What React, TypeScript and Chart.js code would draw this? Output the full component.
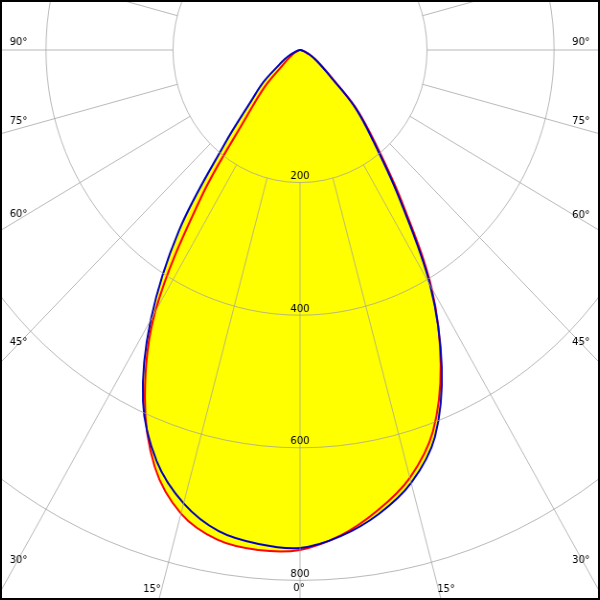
import React, { useEffect, useRef } from "react";
import { Chart, registerables } from "chart.js";

Chart.register(...registerables);

// Gamma angles (deg from nadir), 5° steps, 0..180
const gammaAngles = [
  0, 5, 10, 15, 20, 25, 30, 35, 40, 45, 50, 55, 60, 65, 70, 75, 80, 85, 90,
  95, 100, 105, 110, 115, 120, 125, 130, 135, 140, 145, 150, 155, 160, 165, 170, 175, 180,
];

// Blue curve (C90-C270 plane), left half (C270) and right half (C90), cd/klm
const blueLeft = [
  751, 748, 737, 708, 660, 585, 470, 332, 184, 109, 75, 43, 28, 17, 9, 4, 1, 0, 0,
  0, 0, 0, 0, 0, 0, 0, 0, 0, 0, 0, 0, 0, 0, 0, 0, 0, 0,
];
const blueRight = [
  750, 736, 711, 676, 621, 528, 410, 272, 180, 123, 64, 40, 27, 17, 10, 5, 2, 0, 0,
  0, 0, 0, 0, 0, 0, 0, 0, 0, 0, 0, 0, 0, 0, 0, 0, 0, 0,
];

// Red curve (C0-C180 plane), left half (C180) and right half (C0)
const redLeft = [
  754, 757, 750, 724, 669, 578, 456, 272, 130, 79, 36, 22, 14, 8, 4, 2, 0, 0, 0,
  0, 0, 0, 0, 0, 0, 0, 0, 0, 0, 0, 0, 0, 0, 0, 0, 0, 0,
];
const redRight = [
  752, 735, 705, 668, 612, 524, 414, 280, 186, 126, 66, 41, 27, 17, 10, 5, 2, 0, 0,
  0, 0, 0, 0, 0, 0, 0, 0, 0, 0, 0, 0, 0, 0, 0, 0, 0, 0,
];

// Axis labels
const radialTicks = [200, 400, 600, 800];
const angleTicks = [0, 15, 30, 45, 60, 75, 90];

// ---- layout constants (not data) ----
const SX = 0.958; // horizontal compression of the reference diagram
const SIZE = 1326; // canvas size -> 1000 units = 663 px
const CENTER_X = 298; // inside the 2px bordered frame
const CENTER_Y = 48;
const GRID = "rgba(160,160,160,0.75)";
// label offsets from the pole, in page pixels
const ANGLE_LABEL_OFFSETS: Record<number, [number, number][]> = {
  0: [[-1, 538.5]],
  15: [[-148, 539], [146, 539]],
  30: [[-281.5, 510.5], [281, 510.5]],
  45: [[-281.5, 292], [281, 292]],
  60: [[-281.5, 164.5], [281, 165]],
  75: [[-281.5, 71.5], [281, 71.5]],
  90: [[-281.5, -8], [281, -8]],
};

export default function App() {
  const ref = useRef<HTMLCanvasElement>(null);

  useEffect(() => {
    const canvas = ref.current;
    if (!canvas) return;
    const n = gammaAngles.length; // 37
    const total = 2 * (n - 1); // 72 directions
    const labels: string[] = [];
    const gammaOf: number[] = [];
    const blue: number[] = [];
    const red: number[] = [];
    for (let k = 0; k < total; k++) {
      if (k < n) {
        labels.push(`C-left ${gammaAngles[k]}°`);
        gammaOf.push(gammaAngles[k]);
        blue.push(blueLeft[k]);
        red.push(redLeft[k]);
      } else {
        const j = total - k;
        labels.push(`C-right ${gammaAngles[j]}°`);
        gammaOf.push(gammaAngles[j]);
        blue.push(blueRight[j]);
        red.push(redRight[j]);
      }
    }

    const textPlugin = {
      id: "polarText",
      afterDraw(chart: any) {
        const s = chart.scales.r;
        const ctx = chart.ctx as CanvasRenderingContext2D;
        ctx.save();
        ctx.fillStyle = "#000";
        ctx.font = '10px "DejaVu Sans"';
        ctx.textAlign = "center";
        ctx.textBaseline = "middle";
        const put = (t: string, x: number, y: number) => {
          ctx.save();
          ctx.translate(x, y);
          ctx.scale(1 / SX, 1);
          ctx.fillText(t, 0, 0);
          ctx.restore();
        };
        radialTicks.forEach((v) => {
          put(String(v), s.xCenter, s.yCenter + s.getDistanceFromCenterForValue(v) - 6);
        });
        angleTicks.forEach((a) => {
          (ANGLE_LABEL_OFFSETS[a] || []).forEach(([dx, dy]) => {
            put(`${a}°`, s.xCenter + dx / SX, s.yCenter + dy);
          });
        });
        ctx.restore();
      },
    };

    const isSpoke = (c: any) => gammaOf[c.index] % 15 === 0;

    const chart = new Chart(canvas, {
      type: "radar",
      data: {
        labels,
        datasets: [
          {
            label: "C90 - C270",
            data: blue,
            borderColor: "#0000c0",
            backgroundColor: "#ffff00",
            borderWidth: 2,
            fill: "origin",
            pointRadius: 0,
            borderJoinStyle: "round",
          },
          {
            label: "C0 - C180",
            data: red,
            borderColor: "#ff0000",
            backgroundColor: "#ffff00",
            borderWidth: 2,
            fill: "origin",
            pointRadius: 0,
            borderJoinStyle: "round",
          },
        ],
      },
      options: {
        responsive: false,
        animation: false,
        devicePixelRatio: 1,
        events: [],
        layout: { padding: 0 },
        elements: { line: { tension: 0.35 } },
        scales: {
          r: {
            min: 0,
            max: 1000,
            startAngle: 180,
            ticks: { display: false, stepSize: 200 },
            pointLabels: { display: false },
            grid: { circular: true, color: GRID, lineWidth: 1, z: 1 },
            angleLines: {
              display: true,
              color: (c: any) => (isSpoke(c) ? GRID : "rgba(0,0,0,0)"),
              lineWidth: (c: any) => (isSpoke(c) ? 1 : 0),
              borderDash: (c: any) => [
                0,
                c.chart.scales.r.getDistanceFromCenterForValue(radialTicks[0]),
                5000,
              ],
            },
          },
        },
        plugins: {
          legend: { display: false },
          tooltip: { enabled: false },
          filler: { drawTime: "beforeDatasetsDraw" },
        },
      } as any,
      plugins: [textPlugin],
    });
    return () => chart.destroy();
  }, []);

  return (
    <div
      style={{
        position: "fixed",
        left: 0,
        top: 0,
        width: 600,
        height: 600,
        boxSizing: "border-box",
        border: "2px solid #000",
        overflow: "hidden",
        background: "#fff",
      }}
    >
      <canvas
        ref={ref}
        width={SIZE}
        height={SIZE}
        style={{
          position: "absolute",
          left: CENTER_X - SIZE / 2,
          top: CENTER_Y - SIZE / 2,
          width: SIZE,
          height: SIZE,
          transform: `scaleX(${SX})`,
          transformOrigin: `${SIZE / 2}px ${SIZE / 2}px`,
        }}
      />
    </div>
  );
}
